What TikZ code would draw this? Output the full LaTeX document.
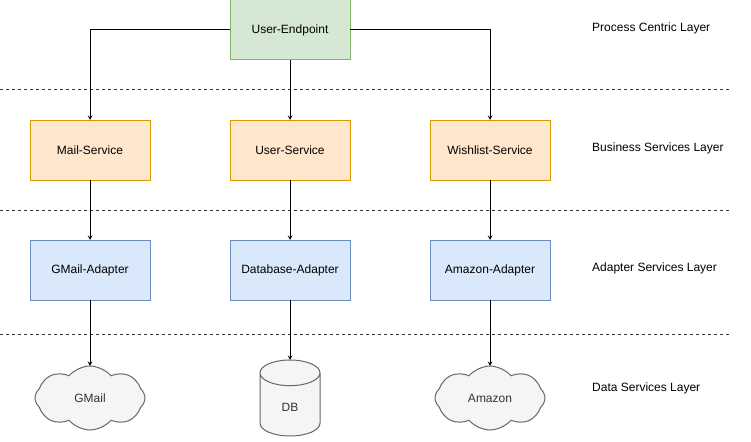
\documentclass[tikz,border=0pt]{standalone}
\usepackage{fontspec}
\setmainfont{Liberation Sans}
\usepackage{tikz}
\usetikzlibrary{positioning,shapes.geometric,shapes.symbols}

\definecolor{epfill}{HTML}{D5E8D4}
\definecolor{epline}{HTML}{82B366}
\definecolor{svfill}{HTML}{FFE6CC}
\definecolor{svline}{HTML}{D79B00}
\definecolor{adfill}{HTML}{DAE8FC}
\definecolor{adline}{HTML}{6C8EBF}
\definecolor{dsfill}{HTML}{F5F5F5}
\definecolor{dsline}{HTML}{666666}
\definecolor{dstext}{HTML}{333333}

\begin{document}
\begin{tikzpicture}[
  font=\fontsize{12pt}{14pt}\selectfont,
  box/.style={draw, line width=1pt, outer sep=0pt, minimum width=120pt, minimum height=60pt},
  epbox/.style={box, fill=epfill, draw=epline},
  svbox/.style={box, fill=svfill, draw=svline},
  adbox/.style={box, fill=adfill, draw=adline},
  store/.style={draw=dsline, fill=dsfill, text=dstext, line width=1pt, outer sep=0pt},
  layer/.style={anchor=west, inner sep=0pt},
  sep/.style={dashed, line width=1pt, black!80},
  link/.style={->, >=stealth, line width=1pt}
]
\useasboundingbox (0pt,0pt) rectangle (751pt,-441pt);

\node[epbox] (ep) at (290pt,-30pt) {User-Endpoint};

\node[svbox, below=60pt of ep] (us) {User-Service};
\node[svbox, left=80pt of us] (ms) {Mail-Service};
\node[svbox, right=80pt of us] (ws) {Wishlist-Service};

\node[adbox, below=60pt of ms] (ga) {GMail-Adapter};
\node[adbox, below=60pt of us] (da) {Database-Adapter};
\node[adbox, below=60pt of ws] (aa) {Amazon-Adapter};

\node[store, cloud, cloud puffs=8, cloud puff arc=100, cloud ignores aspect, minimum width=110pt, minimum height=64pt, below=66pt of ga] (gm) {GMail};
\node[store, cylinder, shape border rotate=90, aspect=1.1, minimum width=60pt, minimum height=76pt, below=60pt of da] (db) {DB};
\node[store, cloud, cloud puffs=8, cloud puff arc=100, cloud ignores aspect, minimum width=110pt, minimum height=64pt, below=66pt of aa] (am) {Amazon};

%layer names
\node[layer] (l1) at (592pt,-28pt) {Process Centric Layer};
\node[layer] (l2) at (592pt,-148pt) {Business Services Layer};
\node[layer] (l3) at (592pt,-268pt) {Adapter Services Layer};
\node[layer] (l4) at (592pt,-388pt) {Data Services Layer};

%set end points for the separators
\coordinate (s1a) at (0pt,-90pt);
\coordinate (s1b) at (730pt,-90pt);
\coordinate (s2a) at (0pt,-210pt);
\coordinate (s2b) at (730pt,-210pt);
\coordinate (s3a) at (0pt,-334pt);
\coordinate (s3b) at (730pt,-334pt);

\draw[sep] (s1a) -- (s1b);
\draw[sep] (s2a) -- (s2b);
\draw[sep] (s3a) -- (s3b);

\draw[link] (ep.west) -| (ms.north);
\draw[link] (ep.south) -- (us.north);
\draw[link] (ep.east) -| (ws.north);
\draw[link] (ms) -- (ga);
\draw[link] (us) -- (da);
\draw[link] (ws) -- (aa);
\draw[link] (ga) -- (gm);
\draw[link] (da) -- (db);
\draw[link] (aa) -- (am);
\end{tikzpicture}
\end{document}
